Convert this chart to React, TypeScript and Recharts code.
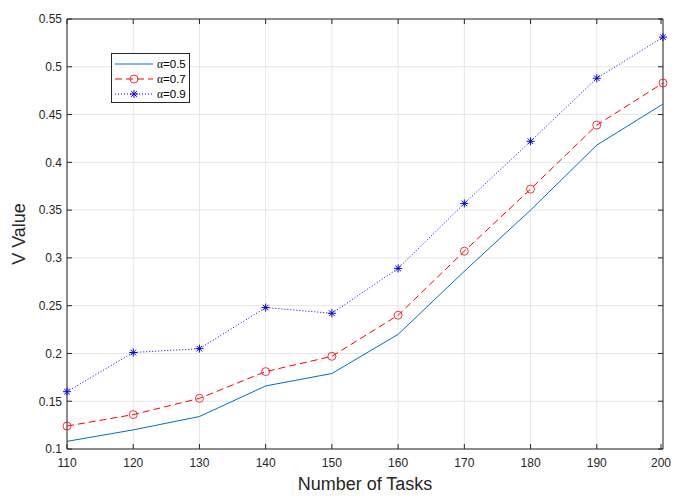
import { LineChart, Line, XAxis, YAxis, CartesianGrid, ReferenceLine } from "recharts";

const tasks = [110, 120, 130, 140, 150, 160, 170, 180, 190, 200];
const alpha05 = [0.108, 0.12, 0.134, 0.166, 0.179, 0.22, 0.286, 0.35, 0.418, 0.461];
const alpha07 = [0.124, 0.136, 0.153, 0.181, 0.197, 0.24, 0.307, 0.372, 0.439, 0.483];
const alpha09 = [0.16, 0.201, 0.205, 0.248, 0.242, 0.289, 0.357, 0.422, 0.488, 0.531];
const yTicks = [0.1, 0.15, 0.2, 0.25, 0.3, 0.35, 0.4, 0.45, 0.5, 0.55];
const seriesNames = ["α=0.5", "α=0.7", "α=0.9"];

const data = tasks.map((t, i) => ({ t, a: alpha05[i], b: alpha07[i], c: alpha09[i] }));

const W = 673;
const H = 496;
const X_AXIS_H = 47;
const Y_AXIS_W = 67;
const M = { top: 19, right: 10, bottom: 0, left: 0 };
const PLOT_TOP = M.top;
const PLOT_BOTTOM = H - X_AXIS_H;
const PLOT_LEFT = Y_AXIS_W;
const PLOT_RIGHT = W - M.right;
const AX = "#262626";
const FONT = "'Liberation Sans', Arial, Helvetica, sans-serif";

const XTick = (props: any) => {
  const { x, y, payload } = props;
  return (
    <g>
      <line x1={x} x2={x} y1={PLOT_BOTTOM} y2={PLOT_BOTTOM - 5} stroke={AX} />
      <line x1={x} x2={x} y1={PLOT_TOP} y2={PLOT_TOP + 5} stroke={AX} />
      <text x={x} y={y} dy="0.75em" textAnchor="middle" fontSize={12} fill={AX} fontFamily={FONT}>
        {payload.value}
      </text>
    </g>
  );
};

const YTick = (props: any) => {
  const { x, y, payload } = props;
  return (
    <g>
      <line x1={PLOT_LEFT} x2={PLOT_LEFT + 5} y1={y} y2={y} stroke={AX} />
      <line x1={PLOT_RIGHT} x2={PLOT_RIGHT - 5} y1={y} y2={y} stroke={AX} />
      <text x={x} y={y} dy="0.36em" textAnchor="end" fontSize={12} fill={AX} fontFamily={FONT}>
        {payload.value}
      </text>
    </g>
  );
};

const Circle = (props: any) => {
  const { cx, cy, index } = props;
  return <circle key={index} cx={cx} cy={cy} r={4} fill="none" stroke="#FF0000" strokeWidth={0.8} />;
};

const Star = (props: any) => {
  const { cx, cy, index } = props;
  const r = 4;
  const d = r * 0.7;
  return (
    <g key={index} stroke="#0000FF" strokeWidth={1}>
      <line x1={cx - r} x2={cx + r} y1={cy} y2={cy} />
      <line x1={cx} x2={cx} y1={cy - r} y2={cy + r} />
      <line x1={cx - d} x2={cx + d} y1={cy - d} y2={cy + d} />
      <line x1={cx - d} x2={cx + d} y1={cy + d} y2={cy - d} />
    </g>
  );
};

const LegendBox = () => (
  <div
    style={{
      position: "absolute",
      left: 111,
      top: 53,
      width: 79,
      height: 50,
      border: "1px solid #262626",
      background: "#fff",
      boxSizing: "border-box",
    }}
  >
    <svg width={79} height={50} style={{ position: "absolute", left: -1, top: -1 }}>
      <line x1={4} x2={42} y1={11} y2={11} stroke="#0072BD" strokeWidth={1} />
      <line x1={4} x2={42} y1={26} y2={26} stroke="#FF0000" strokeDasharray="7 4" />
      <Circle cx={23} cy={26} />
      <line x1={4} x2={42} y1={41} y2={41} stroke="#0000FF" strokeDasharray="1 2" />
      <Star cx={23} cy={41} />
      {seriesNames.map((n, i) => (
        <text key={n} x={46} y={11 + i * 15} dy="0.36em" fontSize={11.5} fill="#000" fontFamily={FONT}>
          <tspan fontFamily="'Liberation Serif', 'DejaVu Serif', serif">α</tspan>
          {n.slice(1)}
        </text>
      ))}
    </svg>
  </div>
);

export default function App() {
  return (
    <div style={{ position: "absolute", left: 0, top: 0, width: W, height: H, background: "#fff" }}>
      <LineChart width={W} height={H} data={data} margin={M}>
        <CartesianGrid stroke="#e6e6e6" strokeWidth={1} />
        <XAxis
          dataKey="t"
          type="number"
          domain={[110, 200]}
          ticks={tasks}
          tick={<XTick />}
          tickSize={0}
          tickMargin={9}
          axisLine={{ stroke: AX }}
          tickLine={false}
          height={X_AXIS_H}
          label={{ value: "Number of Tasks", position: "insideBottom", offset: 6, fontSize: 18, fill: AX, fontFamily: FONT }}
        />
        <YAxis
          type="number"
          domain={[0.1, 0.55]}
          ticks={yTicks}
          tick={<YTick />}
          tickSize={0}
          tickMargin={5}
          width={Y_AXIS_W}
          axisLine={{ stroke: AX }}
          tickLine={false}
          label={{ value: "V Value", angle: -90, position: "insideLeft", offset: 19, fontSize: 18, fill: AX, fontFamily: FONT, style: { textAnchor: "middle" } }}
        />
        <ReferenceLine y={0.55} stroke={AX} />
        <ReferenceLine x={200} stroke={AX} />
        <Line dataKey="a" stroke="#0072BD" strokeWidth={1} dot={false} isAnimationActive={false} />
        <Line dataKey="b" stroke="#FF0000" strokeWidth={1} strokeDasharray="7 4" dot={<Circle />} isAnimationActive={false} />
        <Line dataKey="c" stroke="#0000FF" strokeWidth={1} strokeDasharray="1 2" dot={<Star />} isAnimationActive={false} />
      </LineChart>
      <LegendBox />
    </div>
  );
}
